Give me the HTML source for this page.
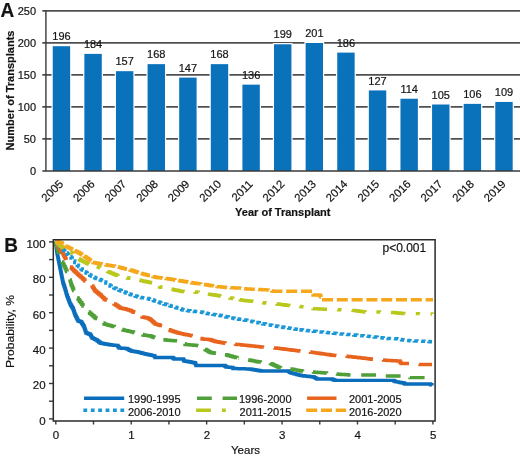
<!DOCTYPE html>
<html><head><meta charset="utf-8"><style>
html,body{margin:0;padding:0;background:#fff;width:520px;height:460px;overflow:hidden}
svg{display:block;font-family:"Liberation Sans", sans-serif;will-change:transform} text{stroke:#141414;stroke-width:0.2px}
</style></head><body>
<svg width="520" height="460" viewBox="0 0 520 460">
<line x1="42.3" y1="138.96" x2="520" y2="138.96" stroke="#505050" stroke-width="1.7"/>
<line x1="42.3" y1="106.92" x2="520" y2="106.92" stroke="#505050" stroke-width="1.7"/>
<line x1="42.3" y1="74.88" x2="520" y2="74.88" stroke="#505050" stroke-width="1.7"/>
<line x1="42.3" y1="42.84" x2="520" y2="42.84" stroke="#505050" stroke-width="1.7"/>
<line x1="42.3" y1="10.80" x2="520" y2="10.80" stroke="#505050" stroke-width="1.7"/>
<rect x="51.55" y="45.00" width="19.80" height="126.00" fill="#fff"/>
<rect x="52.75" y="46.20" width="17.40" height="124.80" fill="#0a71bb"/>
<text x="61.45" y="40.30" text-anchor="middle" font-size="11" fill="#141414">196</text>
<text x="63.85" y="184.70" text-anchor="end" font-size="11.3" fill="#141414" transform="rotate(-45 63.85 184.70)">2005</text>
<rect x="83.16" y="52.69" width="19.80" height="118.31" fill="#fff"/>
<rect x="84.36" y="53.89" width="17.40" height="117.11" fill="#0a71bb"/>
<text x="93.06" y="47.99" text-anchor="middle" font-size="11" fill="#141414">184</text>
<text x="95.46" y="184.70" text-anchor="end" font-size="11.3" fill="#141414" transform="rotate(-45 95.46 184.70)">2006</text>
<rect x="114.77" y="69.99" width="19.80" height="101.01" fill="#fff"/>
<rect x="115.97" y="71.19" width="17.40" height="99.81" fill="#0a71bb"/>
<text x="124.67" y="65.29" text-anchor="middle" font-size="11" fill="#141414">157</text>
<text x="127.07" y="184.70" text-anchor="end" font-size="11.3" fill="#141414" transform="rotate(-45 127.07 184.70)">2007</text>
<rect x="146.38" y="62.95" width="19.80" height="108.05" fill="#fff"/>
<rect x="147.58" y="64.15" width="17.40" height="106.85" fill="#0a71bb"/>
<text x="156.28" y="58.25" text-anchor="middle" font-size="11" fill="#141414">168</text>
<text x="158.68" y="184.70" text-anchor="end" font-size="11.3" fill="#141414" transform="rotate(-45 158.68 184.70)">2008</text>
<rect x="177.99" y="76.40" width="19.80" height="94.60" fill="#fff"/>
<rect x="179.19" y="77.60" width="17.40" height="93.40" fill="#0a71bb"/>
<text x="187.89" y="71.70" text-anchor="middle" font-size="11" fill="#141414">147</text>
<text x="190.29" y="184.70" text-anchor="end" font-size="11.3" fill="#141414" transform="rotate(-45 190.29 184.70)">2009</text>
<rect x="209.60" y="62.95" width="19.80" height="108.05" fill="#fff"/>
<rect x="210.80" y="64.15" width="17.40" height="106.85" fill="#0a71bb"/>
<text x="219.50" y="58.25" text-anchor="middle" font-size="11" fill="#141414">168</text>
<text x="221.90" y="184.70" text-anchor="end" font-size="11.3" fill="#141414" transform="rotate(-45 221.90 184.70)">2010</text>
<rect x="241.21" y="83.45" width="19.80" height="87.55" fill="#fff"/>
<rect x="242.41" y="84.65" width="17.40" height="86.35" fill="#0a71bb"/>
<text x="251.11" y="78.75" text-anchor="middle" font-size="11" fill="#141414">136</text>
<text x="253.51" y="184.70" text-anchor="end" font-size="11.3" fill="#141414" transform="rotate(-45 253.51 184.70)">2011</text>
<rect x="272.82" y="43.08" width="19.80" height="127.92" fill="#fff"/>
<rect x="274.02" y="44.28" width="17.40" height="126.72" fill="#0a71bb"/>
<text x="282.72" y="38.38" text-anchor="middle" font-size="11" fill="#141414">199</text>
<text x="285.12" y="184.70" text-anchor="end" font-size="11.3" fill="#141414" transform="rotate(-45 285.12 184.70)">2012</text>
<rect x="304.43" y="41.80" width="19.80" height="129.20" fill="#fff"/>
<rect x="305.63" y="43.00" width="17.40" height="128.00" fill="#0a71bb"/>
<text x="314.33" y="37.10" text-anchor="middle" font-size="11" fill="#141414">201</text>
<text x="316.73" y="184.70" text-anchor="end" font-size="11.3" fill="#141414" transform="rotate(-45 316.73 184.70)">2013</text>
<rect x="336.04" y="51.41" width="19.80" height="119.59" fill="#fff"/>
<rect x="337.24" y="52.61" width="17.40" height="118.39" fill="#0a71bb"/>
<text x="345.94" y="46.71" text-anchor="middle" font-size="11" fill="#141414">186</text>
<text x="348.34" y="184.70" text-anchor="end" font-size="11.3" fill="#141414" transform="rotate(-45 348.34 184.70)">2014</text>
<rect x="367.65" y="89.22" width="19.80" height="81.78" fill="#fff"/>
<rect x="368.85" y="90.42" width="17.40" height="80.58" fill="#0a71bb"/>
<text x="377.55" y="84.52" text-anchor="middle" font-size="11" fill="#141414">127</text>
<text x="379.95" y="184.70" text-anchor="end" font-size="11.3" fill="#141414" transform="rotate(-45 379.95 184.70)">2015</text>
<rect x="399.26" y="97.55" width="19.80" height="73.45" fill="#fff"/>
<rect x="400.46" y="98.75" width="17.40" height="72.25" fill="#0a71bb"/>
<text x="409.16" y="92.85" text-anchor="middle" font-size="11" fill="#141414">114</text>
<text x="411.56" y="184.70" text-anchor="end" font-size="11.3" fill="#141414" transform="rotate(-45 411.56 184.70)">2016</text>
<rect x="430.87" y="103.32" width="19.80" height="67.68" fill="#fff"/>
<rect x="432.07" y="104.52" width="17.40" height="66.48" fill="#0a71bb"/>
<text x="440.77" y="98.62" text-anchor="middle" font-size="11" fill="#141414">105</text>
<text x="443.17" y="184.70" text-anchor="end" font-size="11.3" fill="#141414" transform="rotate(-45 443.17 184.70)">2017</text>
<rect x="462.48" y="102.68" width="19.80" height="68.32" fill="#fff"/>
<rect x="463.68" y="103.88" width="17.40" height="67.12" fill="#0a71bb"/>
<text x="472.38" y="97.98" text-anchor="middle" font-size="11" fill="#141414">106</text>
<text x="474.78" y="184.70" text-anchor="end" font-size="11.3" fill="#141414" transform="rotate(-45 474.78 184.70)">2018</text>
<rect x="494.09" y="100.75" width="19.80" height="70.25" fill="#fff"/>
<rect x="495.29" y="101.95" width="17.40" height="69.05" fill="#0a71bb"/>
<text x="503.99" y="96.05" text-anchor="middle" font-size="11" fill="#141414">109</text>
<text x="506.39" y="184.70" text-anchor="end" font-size="11.3" fill="#141414" transform="rotate(-45 506.39 184.70)">2019</text>
<line x1="45.9" y1="10.8" x2="45.9" y2="171.0" stroke="#3a3a3a" stroke-width="1.4"/>
<line x1="42.3" y1="171.0" x2="520" y2="171.0" stroke="#3a3a3a" stroke-width="1.4"/>
<text x="36" y="175.00" text-anchor="end" font-size="11" fill="#141414">0</text>
<text x="36" y="142.96" text-anchor="end" font-size="11" fill="#141414">50</text>
<text x="36" y="110.92" text-anchor="end" font-size="11" fill="#141414">100</text>
<text x="36" y="78.88" text-anchor="end" font-size="11" fill="#141414">150</text>
<text x="36" y="46.84" text-anchor="end" font-size="11" fill="#141414">200</text>
<text x="36" y="14.80" text-anchor="end" font-size="11" fill="#141414">250</text>
<text x="0" y="0" font-size="20" font-weight="bold" fill="#141414" transform="translate(0.4 16.7) scale(0.95 1)">A</text>
<text transform="translate(14.2 90.5) rotate(-90)" text-anchor="middle" font-size="11" font-weight="bold" fill="#141414">Number of Transplants</text>
<text x="282.8" y="216" text-anchor="middle" font-size="11" font-weight="bold" fill="#141414">Year of Transplant</text>
<line x1="49" y1="418.90" x2="53.3" y2="418.90" stroke="#3a3a3a" stroke-width="1.4"/>
<line x1="49" y1="401.20" x2="53.3" y2="401.20" stroke="#3a3a3a" stroke-width="1.4"/>
<line x1="49" y1="383.50" x2="53.3" y2="383.50" stroke="#3a3a3a" stroke-width="1.4"/>
<line x1="49" y1="365.80" x2="53.3" y2="365.80" stroke="#3a3a3a" stroke-width="1.4"/>
<line x1="49" y1="348.10" x2="53.3" y2="348.10" stroke="#3a3a3a" stroke-width="1.4"/>
<line x1="49" y1="330.40" x2="53.3" y2="330.40" stroke="#3a3a3a" stroke-width="1.4"/>
<line x1="49" y1="312.70" x2="53.3" y2="312.70" stroke="#3a3a3a" stroke-width="1.4"/>
<line x1="49" y1="295.00" x2="53.3" y2="295.00" stroke="#3a3a3a" stroke-width="1.4"/>
<line x1="49" y1="277.30" x2="53.3" y2="277.30" stroke="#3a3a3a" stroke-width="1.4"/>
<line x1="49" y1="259.60" x2="53.3" y2="259.60" stroke="#3a3a3a" stroke-width="1.4"/>
<line x1="49" y1="241.90" x2="53.3" y2="241.90" stroke="#3a3a3a" stroke-width="1.4"/>
<text x="45.6" y="424.80" text-anchor="end" font-size="11.5" fill="#141414">0</text>
<text x="45.6" y="389.40" text-anchor="end" font-size="11.5" fill="#141414">20</text>
<text x="45.6" y="354.00" text-anchor="end" font-size="11.5" fill="#141414">40</text>
<text x="45.6" y="318.60" text-anchor="end" font-size="11.5" fill="#141414">60</text>
<text x="45.6" y="283.20" text-anchor="end" font-size="11.5" fill="#141414">80</text>
<text x="45.6" y="247.80" text-anchor="end" font-size="11.5" fill="#141414">100</text>
<line x1="55.80" y1="421.0" x2="55.80" y2="424.5" stroke="#3a3a3a" stroke-width="1.4"/>
<line x1="93.51" y1="421.0" x2="93.51" y2="424.5" stroke="#3a3a3a" stroke-width="1.4"/>
<line x1="131.22" y1="421.0" x2="131.22" y2="424.5" stroke="#3a3a3a" stroke-width="1.4"/>
<line x1="168.93" y1="421.0" x2="168.93" y2="424.5" stroke="#3a3a3a" stroke-width="1.4"/>
<line x1="206.64" y1="421.0" x2="206.64" y2="424.5" stroke="#3a3a3a" stroke-width="1.4"/>
<line x1="244.35" y1="421.0" x2="244.35" y2="424.5" stroke="#3a3a3a" stroke-width="1.4"/>
<line x1="282.06" y1="421.0" x2="282.06" y2="424.5" stroke="#3a3a3a" stroke-width="1.4"/>
<line x1="319.77" y1="421.0" x2="319.77" y2="424.5" stroke="#3a3a3a" stroke-width="1.4"/>
<line x1="357.48" y1="421.0" x2="357.48" y2="424.5" stroke="#3a3a3a" stroke-width="1.4"/>
<line x1="395.19" y1="421.0" x2="395.19" y2="424.5" stroke="#3a3a3a" stroke-width="1.4"/>
<line x1="432.90" y1="421.0" x2="432.90" y2="424.5" stroke="#3a3a3a" stroke-width="1.4"/>
<text x="56.00" y="438.6" text-anchor="middle" font-size="11.5" fill="#141414">0</text>
<text x="131.42" y="438.6" text-anchor="middle" font-size="11.5" fill="#141414">1</text>
<text x="206.84" y="438.6" text-anchor="middle" font-size="11.5" fill="#141414">2</text>
<text x="282.26" y="438.6" text-anchor="middle" font-size="11.5" fill="#141414">3</text>
<text x="357.68" y="438.6" text-anchor="middle" font-size="11.5" fill="#141414">4</text>
<text x="433.10" y="438.6" text-anchor="middle" font-size="11.5" fill="#141414">5</text>
<text x="0" y="0" font-size="20" font-weight="bold" fill="#141414" transform="translate(4.2 251.5) scale(0.95 1)">B</text>
<text transform="translate(14.4 331.5) rotate(-90)" text-anchor="middle" font-size="11" fill="#141414" textLength="73" lengthAdjust="spacingAndGlyphs">Probability, %</text>
<text x="245.5" y="454" text-anchor="middle" font-size="11.5" fill="#141414">Years</text>
<text x="426.2" y="251.7" text-anchor="end" font-size="12" fill="#141414">p&lt;0.001</text>
<path d="M55.50 241.50L55.69 241.50L55.69 242.94L55.88 242.94L55.88 244.38L56.06 244.38L56.06 245.81L56.25 245.81L56.25 247.25L56.44 247.25L56.44 248.69L56.62 248.69L56.62 250.12L56.81 250.12L56.81 251.56L57.00 251.56L57.00 253.00L57.29 253.00L57.29 254.43L57.57 254.43L57.57 255.86L57.86 255.86L57.86 257.29L58.14 257.29L58.14 258.71L58.43 258.71L58.43 260.14L58.71 260.14L58.71 261.57L59.00 261.57L59.00 263.00L59.29 263.00L59.29 264.43L59.57 264.43L59.57 265.86L59.86 265.86L59.86 267.29L60.14 267.29L60.14 268.71L60.43 268.71L60.43 270.14L60.71 270.14L60.71 271.57L61.00 271.57L61.00 273.00L61.29 273.00L61.29 274.43L61.57 274.43L61.57 275.86L61.86 275.86L61.86 277.29L62.14 277.29L62.14 278.71L62.43 278.71L62.43 280.14L62.71 280.14L62.71 281.57L63.00 281.57L63.00 283.00L63.50 283.00L63.50 284.50L64.00 284.50L64.00 286.00L64.50 286.00L64.50 287.50L65.00 287.50L65.00 289.00L65.40 289.00L65.40 290.40L65.80 290.40L65.80 291.80L66.20 291.80L66.20 293.20L66.60 293.20L66.60 294.60L67.00 294.60L67.00 296.00L67.60 296.00L67.60 297.60L68.20 297.60L68.20 299.20L68.80 299.20L68.80 300.80L69.40 300.80L69.40 302.40L70.00 302.40L70.00 304.00L70.75 304.00L70.75 305.25L71.50 305.25L71.50 306.50L72.25 306.50L72.25 307.75L73.00 307.75L73.00 309.00L73.50 309.00L73.50 310.50L74.00 310.50L74.00 312.00L74.50 312.00L74.50 313.50L75.00 313.50L75.00 315.00L75.75 315.00L75.75 316.50L76.50 316.50L76.50 318.00L77.25 318.00L77.25 319.50L78.00 319.50L78.00 321.00L79.50 321.00L79.50 321.50L81.00 321.50L81.00 322.00L81.75 322.00L81.75 323.25L82.50 323.25L82.50 324.50L83.25 324.50L83.25 325.75L84.00 325.75L84.00 327.00L84.50 327.00L84.50 328.50L85.00 328.50L85.00 330.00L85.50 330.00L85.50 331.50L86.00 331.50L86.00 333.00L87.33 333.00L87.33 333.50L88.67 333.50L88.67 334.00L90.00 334.00L90.00 334.50L90.67 334.50L90.67 335.67L91.33 335.67L91.33 336.83L92.00 336.83L92.00 338.00L93.33 338.00L93.33 338.67L94.67 338.67L94.67 339.33L96.00 339.33L96.00 340.00L97.33 340.00L97.33 341.00L98.67 341.00L98.67 342.00L100.00 342.00L100.00 343.00L101.25 343.00L101.25 343.25L102.50 343.25L102.50 343.50L103.75 343.50L103.75 343.75L105.00 343.75L105.00 344.00L106.50 344.00L106.50 344.25L108.00 344.25L108.00 344.50L109.50 344.50L109.50 344.75L111.00 344.75L111.00 345.00L112.50 345.00L112.50 345.12L114.00 345.12L114.00 345.25L115.50 345.25L115.50 345.38L117.00 345.38L117.00 345.50L118.00 345.50L118.00 346.75L119.00 346.75L119.00 348.00L120.40 348.00L120.40 348.10L121.80 348.10L121.80 348.20L123.20 348.20L123.20 348.30L124.60 348.30L124.60 348.40L126.00 348.40L126.00 348.50L127.25 348.50L127.25 349.12L128.50 349.12L128.50 349.75L129.75 349.75L129.75 350.38L131.00 350.38L131.00 351.00L132.50 351.00L132.50 351.25L134.00 351.25L134.00 351.50L135.50 351.50L135.50 351.75L137.00 351.75L137.00 352.00L138.60 352.00L138.60 352.40L140.20 352.40L140.20 352.80L141.80 352.80L141.80 353.20L143.40 353.20L143.40 353.60L145.00 353.60L145.00 354.00L146.25 354.00L146.25 354.25L147.50 354.25L147.50 354.50L148.75 354.50L148.75 354.75L150.00 354.75L150.00 355.00L151.33 355.00L151.33 355.33L152.67 355.33L152.67 355.67L154.00 355.67L154.00 356.00L155.00 356.00L155.00 357.50L156.55 357.50L156.55 357.50L158.09 357.50L158.09 357.50L159.64 357.50L159.64 357.50L161.18 357.50L161.18 357.50L162.73 357.50L162.73 357.50L164.27 357.50L164.27 357.50L165.82 357.50L165.82 357.50L167.36 357.50L167.36 357.50L168.91 357.50L168.91 357.50L170.45 357.50L170.45 357.50L172.00 357.50L172.00 357.50L173.00 357.50L173.00 358.25L174.00 358.25L174.00 359.00L175.50 359.00L175.50 359.00L177.00 359.00L177.00 359.00L178.50 359.00L178.50 359.00L180.00 359.00L180.00 359.00L181.50 359.00L181.50 359.00L183.00 359.00L183.00 359.00L183.50 359.00L183.50 360.00L184.00 360.00L184.00 361.00L185.50 361.00L185.50 361.25L187.00 361.25L187.00 361.50L188.50 361.50L188.50 361.75L190.00 361.75L190.00 362.00L191.25 362.00L191.25 362.25L192.50 362.25L192.50 362.50L193.75 362.50L193.75 362.75L195.00 362.75L195.00 363.00L195.50 363.00L195.50 364.25L196.00 364.25L196.00 365.50L197.56 365.50L197.56 365.50L199.11 365.50L199.11 365.50L200.67 365.50L200.67 365.50L202.22 365.50L202.22 365.50L203.78 365.50L203.78 365.50L205.33 365.50L205.33 365.50L206.89 365.50L206.89 365.50L208.44 365.50L208.44 365.50L210.00 365.50L210.00 365.50L211.56 365.50L211.56 365.50L213.11 365.50L213.11 365.50L214.67 365.50L214.67 365.50L216.22 365.50L216.22 365.50L217.78 365.50L217.78 365.50L219.33 365.50L219.33 365.50L220.89 365.50L220.89 365.50L222.44 365.50L222.44 365.50L224.00 365.50L224.00 365.50L225.00 365.50L225.00 366.25L226.00 366.25L226.00 367.00L227.50 367.00L227.50 367.12L229.00 367.12L229.00 367.25L230.50 367.25L230.50 367.38L232.00 367.38L232.00 367.50L233.00 367.50L233.00 368.50L234.60 368.50L234.60 368.55L236.20 368.55L236.20 368.60L237.80 368.60L237.80 368.65L239.40 368.65L239.40 368.70L241.00 368.70L241.00 368.75L242.60 368.75L242.60 368.80L244.20 368.80L244.20 368.85L245.80 368.85L245.80 368.90L247.40 368.90L247.40 368.95L249.00 368.95L249.00 369.00L250.50 369.00L250.50 369.25L252.00 369.25L252.00 369.50L253.50 369.50L253.50 369.75L255.00 369.75L255.00 370.00L256.50 370.00L256.50 370.25L258.00 370.25L258.00 370.50L259.50 370.50L259.50 370.75L261.00 370.75L261.00 371.00L262.53 371.00L262.53 371.00L264.06 371.00L264.06 371.00L265.59 371.00L265.59 371.00L267.12 371.00L267.12 371.00L268.65 371.00L268.65 371.00L270.18 371.00L270.18 371.00L271.71 371.00L271.71 371.00L273.24 371.00L273.24 371.00L274.76 371.00L274.76 371.00L276.29 371.00L276.29 371.00L277.82 371.00L277.82 371.00L279.35 371.00L279.35 371.00L280.88 371.00L280.88 371.00L282.41 371.00L282.41 371.00L283.94 371.00L283.94 371.00L285.47 371.00L285.47 371.00L287.00 371.00L287.00 371.00L288.33 371.00L288.33 371.67L289.67 371.67L289.67 372.33L291.00 372.33L291.00 373.00L292.43 373.00L292.43 373.37L293.86 373.37L293.86 373.74L295.29 373.74L295.29 374.11L296.71 374.11L296.71 374.49L298.14 374.49L298.14 374.86L299.57 374.86L299.57 375.23L301.00 375.23L301.00 375.60L302.50 375.60L302.50 375.78L304.00 375.78L304.00 375.95L305.50 375.95L305.50 376.12L307.00 376.12L307.00 376.30L308.50 376.30L308.50 376.48L310.00 376.48L310.00 376.65L311.50 376.65L311.50 376.82L313.00 376.82L313.00 377.00L314.33 377.00L314.33 377.67L315.67 377.67L315.67 378.33L317.00 378.33L317.00 379.00L318.56 379.00L318.56 379.00L320.11 379.00L320.11 379.00L321.67 379.00L321.67 379.00L323.22 379.00L323.22 379.00L324.78 379.00L324.78 379.00L326.33 379.00L326.33 379.00L327.89 379.00L327.89 379.00L329.44 379.00L329.44 379.00L331.00 379.00L331.00 379.00L332.33 379.00L332.33 379.47L333.67 379.47L333.67 379.93L335.00 379.93L335.00 380.40L336.57 380.40L336.57 380.40L338.14 380.40L338.14 380.40L339.70 380.40L339.70 380.40L341.27 380.40L341.27 380.40L342.84 380.40L342.84 380.40L344.41 380.40L344.41 380.40L345.97 380.40L345.97 380.40L347.54 380.40L347.54 380.40L349.11 380.40L349.11 380.40L350.68 380.40L350.68 380.40L352.24 380.40L352.24 380.40L353.81 380.40L353.81 380.40L355.38 380.40L355.38 380.40L356.95 380.40L356.95 380.40L358.51 380.40L358.51 380.40L360.08 380.40L360.08 380.40L361.65 380.40L361.65 380.40L363.22 380.40L363.22 380.40L364.78 380.40L364.78 380.40L366.35 380.40L366.35 380.40L367.92 380.40L367.92 380.40L369.49 380.40L369.49 380.40L371.05 380.40L371.05 380.40L372.62 380.40L372.62 380.40L374.19 380.40L374.19 380.40L375.76 380.40L375.76 380.40L377.32 380.40L377.32 380.40L378.89 380.40L378.89 380.40L380.46 380.40L380.46 380.40L382.03 380.40L382.03 380.40L383.59 380.40L383.59 380.40L385.16 380.40L385.16 380.40L386.73 380.40L386.73 380.40L388.30 380.40L388.30 380.40L389.86 380.40L389.86 380.40L391.43 380.40L391.43 380.40L393.00 380.40L393.00 380.40L394.00 380.40L394.00 381.00L395.00 381.00L395.00 381.60L396.60 381.60L396.60 381.88L398.20 381.88L398.20 382.16L399.80 382.16L399.80 382.44L401.40 382.44L401.40 382.72L403.00 382.72L403.00 383.00L404.00 383.00L404.00 383.50L405.00 383.50L405.00 384.00L406.60 384.00L406.60 384.00L408.20 384.00L408.20 384.00L409.80 384.00L409.80 384.00L411.40 384.00L411.40 384.00L413.00 384.00L413.00 384.00L414.60 384.00L414.60 384.00L416.20 384.00L416.20 384.00L417.80 384.00L417.80 384.00L419.40 384.00L419.40 384.00L421.00 384.00L421.00 384.00L422.60 384.00L422.60 384.00L424.20 384.00L424.20 384.00L425.80 384.00L425.80 384.00L427.40 384.00L427.40 384.00L429.00 384.00L429.00 384.00L430.50 384.00L430.50 384.80L432.00 384.80L432.00 385.60" fill="none" stroke="#0a6ebd" stroke-width="3.4" stroke-linejoin="miter"/>
<path d="M55.50 242.00L55.92 242.00L55.92 243.50L56.33 243.50L56.33 245.00L56.75 245.00L56.75 246.50L57.17 246.50L57.17 248.00L57.58 248.00L57.58 249.50L58.00 249.50L58.00 251.00L58.57 251.00L58.57 252.57L59.14 252.57L59.14 254.14L59.71 254.14L59.71 255.71L60.29 255.71L60.29 257.29L60.86 257.29L60.86 258.86L61.43 258.86L61.43 260.43L62.00 260.43L62.00 262.00L62.80 262.00L62.80 263.60L63.60 263.60L63.60 265.20L64.40 265.20L64.40 266.80L65.20 266.80L65.20 268.40L66.00 268.40L66.00 270.00L66.57 270.00L66.57 271.43L67.14 271.43L67.14 272.86L67.71 272.86L67.71 274.29L68.29 274.29L68.29 275.71L68.86 275.71L68.86 277.14L69.43 277.14L69.43 278.57L70.00 278.57L70.00 280.00L70.33 280.00L70.33 281.33L70.67 281.33L70.67 282.67L71.00 282.67L71.00 284.00L71.50 284.00L71.50 285.25L72.00 285.25L72.00 286.50L72.50 286.50L72.50 287.75L73.00 287.75L73.00 289.00L73.67 289.00L73.67 290.50L74.33 290.50L74.33 292.00L75.00 292.00L75.00 293.50L75.67 293.50L75.67 295.00L76.33 295.00L76.33 296.50L77.00 296.50L77.00 298.00L78.20 298.00L78.20 299.60L79.40 299.60L79.40 301.20L80.60 301.20L80.60 302.80L81.80 302.80L81.80 304.40L83.00 304.40L83.00 306.00L84.25 306.00L84.25 307.50L85.50 307.50L85.50 309.00L86.75 309.00L86.75 310.50L88.00 310.50L88.00 312.00L89.50 312.00L89.50 313.25L91.00 313.25L91.00 314.50L92.50 314.50L92.50 315.75L94.00 315.75L94.00 317.00L95.00 317.00L95.00 317.75L96.00 317.75L96.00 318.50L97.60 318.50L97.60 319.60L99.20 319.60L99.20 320.70L100.80 320.70L100.80 321.80L102.40 321.80L102.40 322.90L104.00 322.90L104.00 324.00L105.50 324.00L105.50 324.42L107.00 324.42L107.00 324.83L108.50 324.83L108.50 325.25L110.00 325.25L110.00 325.67L111.50 325.67L111.50 326.08L113.00 326.08L113.00 326.50L114.43 326.50L114.43 327.00L115.86 327.00L115.86 327.50L117.29 327.50L117.29 328.00L118.71 328.00L118.71 328.50L120.14 328.50L120.14 329.00L121.57 329.00L121.57 329.50L123.00 329.50L123.00 330.00L124.50 330.00L124.50 330.33L126.00 330.33L126.00 330.67L127.50 330.67L127.50 331.00L129.00 331.00L129.00 331.33L130.50 331.33L130.50 331.67L132.00 331.67L132.00 332.00L133.57 332.00L133.57 332.43L135.14 332.43L135.14 332.86L136.71 332.86L136.71 333.29L138.29 333.29L138.29 333.71L139.86 333.71L139.86 334.14L141.43 334.14L141.43 334.57L143.00 334.57L143.00 335.00L144.40 335.00L144.40 335.20L145.80 335.20L145.80 335.40L147.20 335.40L147.20 335.60L148.60 335.60L148.60 335.80L150.00 335.80L150.00 336.00L151.33 336.00L151.33 336.50L152.67 336.50L152.67 337.00L154.00 337.00L154.00 337.50L155.57 337.50L155.57 337.86L157.14 337.86L157.14 338.21L158.71 338.21L158.71 338.57L160.29 338.57L160.29 338.93L161.86 338.93L161.86 339.29L163.43 339.29L163.43 339.64L165.00 339.64L165.00 340.00L166.50 340.00L166.50 340.12L168.00 340.12L168.00 340.25L169.50 340.25L169.50 340.38L171.00 340.38L171.00 340.50L172.50 340.50L172.50 340.62L174.00 340.62L174.00 340.75L175.50 340.75L175.50 340.88L177.00 340.88L177.00 341.00L178.60 341.00L178.60 341.70L180.20 341.70L180.20 342.40L181.80 342.40L181.80 343.10L183.40 343.10L183.40 343.80L185.00 343.80L185.00 344.50L186.50 344.50L186.50 344.62L188.00 344.62L188.00 344.75L189.50 344.75L189.50 344.88L191.00 344.88L191.00 345.00L192.50 345.00L192.50 345.12L194.00 345.12L194.00 345.25L195.50 345.25L195.50 345.38L197.00 345.38L197.00 345.50L198.60 345.50L198.60 346.30L200.20 346.30L200.20 347.10L201.80 347.10L201.80 347.90L203.40 347.90L203.40 348.70L205.00 348.70L205.00 349.50L206.25 349.50L206.25 350.25L207.50 350.25L207.50 351.00L208.75 351.00L208.75 351.75L210.00 351.75L210.00 352.50L211.50 352.50L211.50 352.75L213.00 352.75L213.00 353.00L214.50 353.00L214.50 353.25L216.00 353.25L216.00 353.50L217.50 353.50L217.50 353.71L219.00 353.71L219.00 353.93L220.50 353.93L220.50 354.14L222.00 354.14L222.00 354.36L223.50 354.36L223.50 354.57L225.00 354.57L225.00 354.79L226.50 354.79L226.50 355.00L228.00 355.00L228.00 355.43L229.50 355.43L229.50 355.86L231.00 355.86L231.00 356.29L232.50 356.29L232.50 356.71L234.00 356.71L234.00 357.14L235.50 357.14L235.50 357.57L237.00 357.57L237.00 358.00L238.57 358.00L238.57 358.29" fill="none" stroke="#50a03a" stroke-width="3.4" stroke-dasharray="14.8 10.8" stroke-dashoffset="24.82"/>
<path d="M238.57 358.29L240.14 358.29L240.14 358.57L241.71 358.57L241.71 358.86L243.29 358.86L243.29 359.14L244.86 359.14L244.86 359.43L246.43 359.43L246.43 359.71L248.00 359.71L248.00 360.00L249.57 360.00L249.57 360.29L251.14 360.29L251.14 360.57L252.71 360.57L252.71 360.86L254.29 360.86L254.29 361.14L255.86 361.14L255.86 361.43L257.43 361.43L257.43 361.71L259.00 361.71L259.00 362.00L260.43 362.00L260.43 362.14L261.86 362.14L261.86 362.29L263.29 362.29L263.29 362.43L264.71 362.43L264.71 362.57L266.14 362.57L266.14 362.71L267.57 362.71L267.57 362.86L269.00 362.86L269.00 363.00L270.43 363.00L270.43 363.66L271.86 363.66L271.86 364.31L273.29 364.31L273.29 364.97L274.71 364.97L274.71 365.63L276.14 365.63L276.14 366.29L277.57 366.29L277.57 366.94L279.00 366.94L279.00 367.60L280.57 367.60L280.57 367.80L282.14 367.80L282.14 368.00L283.71 368.00L283.71 368.20L285.29 368.20L285.29 368.40L286.86 368.40L286.86 368.60L288.43 368.60L288.43 368.80L290.00 368.80L290.00 369.00L291.57 369.00L291.57 369.29L293.14 369.29L293.14 369.57L294.71 369.57L294.71 369.86L296.29 369.86L296.29 370.14L297.86 370.14L297.86 370.43L299.43 370.43L299.43 370.71L301.00 370.71L301.00 371.00L302.57 371.00L302.57 371.14L304.14 371.14L304.14 371.29L305.71 371.29L305.71 371.43L307.29 371.43L307.29 371.57L308.86 371.57L308.86 371.71L310.43 371.71L310.43 371.86L312.00 371.86L312.00 372.00L313.44 372.00L313.44 372.11L314.89 372.11L314.89 372.22L316.33 372.22L316.33 372.33L317.78 372.33L317.78 372.44L319.22 372.44L319.22 372.56L320.67 372.56L320.67 372.67L322.11 372.67L322.11 372.78L323.56 372.78L323.56 372.89L325.00 372.89L325.00 373.00L326.57 373.00L326.57 373.14L328.14 373.14L328.14 373.29L329.71 373.29L329.71 373.43L331.29 373.43L331.29 373.57L332.86 373.57L332.86 373.71L334.43 373.71L334.43 373.86L336.00 373.86L336.00 374.00L337.44 374.00L337.44 374.11L338.89 374.11L338.89 374.22L340.33 374.22L340.33 374.33L341.78 374.33L341.78 374.44L343.22 374.44L343.22 374.56L344.67 374.56L344.67 374.67L346.11 374.67L346.11 374.78L347.56 374.78L347.56 374.89L349.00 374.89L349.00 375.00L350.60 375.00L350.60 375.00L352.20 375.00L352.20 375.00L353.80 375.00L353.80 375.00L355.40 375.00L355.40 375.00L357.00 375.00L357.00 375.00L358.60 375.00L358.60 375.00L360.20 375.00L360.20 375.00L361.80 375.00L361.80 375.00L363.40 375.00L363.40 375.00L365.00 375.00L365.00 375.00L366.50 375.00L366.50 375.00L368.00 375.00L368.00 375.00L369.50 375.00L369.50 375.00L371.00 375.00L371.00 375.00L372.50 375.00L372.50 375.00L374.00 375.00L374.00 375.00L375.50 375.00L375.50 375.00L377.00 375.00L377.00 375.00L378.40 375.00L378.40 375.20L379.80 375.20L379.80 375.40L381.20 375.40L381.20 375.60L382.60 375.60L382.60 375.80L384.00 375.80L384.00 376.00L385.55 376.00L385.55 376.00L387.09 376.00L387.09 376.00L388.64 376.00L388.64 376.00L390.18 376.00L390.18 376.00L391.73 376.00L391.73 376.00L393.27 376.00L393.27 376.00L394.82 376.00L394.82 376.00L396.36 376.00L396.36 376.00L397.91 376.00L397.91 376.00L399.45 376.00L399.45 376.00L401.00 376.00L401.00 376.00L402.50 376.00L402.50 376.27L404.00 376.27L404.00 376.53L405.50 376.53L405.50 376.80L407.00 376.80L407.00 377.07L408.50 377.07L408.50 377.33L410.00 377.33L410.00 377.60L411.50 377.60L411.50 377.60L413.00 377.60L413.00 377.60L414.50 377.60L414.50 377.60L416.00 377.60L416.00 377.60L417.50 377.60L417.50 377.60L419.00 377.60L419.00 377.60L420.50 377.60L420.50 377.60L422.00 377.60L422.00 377.60L423.50 377.60L423.50 377.60L425.00 377.60L425.00 377.60L426.60 377.60L426.60 377.60L428.20 377.60L428.20 377.60L429.80 377.60L429.80 377.60L431.40 377.60L431.40 377.60L433.00 377.60L433.00 377.60" fill="none" stroke="#50a03a" stroke-width="3.4" stroke-dasharray="14.8 10.8" stroke-dashoffset="14.26"/>
<path d="M55.50 242.00L56.38 242.00L56.38 243.50L57.25 243.50L57.25 245.00L58.12 245.00L58.12 246.50L59.00 246.50L59.00 248.00L60.00 248.00L60.00 249.50L61.00 249.50L61.00 251.00L62.00 251.00L62.00 252.50L63.00 252.50L63.00 254.00L63.75 254.00L63.75 255.50L64.50 255.50L64.50 257.00L65.25 257.00L65.25 258.50L66.00 258.50L66.00 260.00L66.80 260.00L66.80 261.40L67.60 261.40L67.60 262.80L68.40 262.80L68.40 264.20L69.20 264.20L69.20 265.60L70.00 265.60L70.00 267.00L71.25 267.00L71.25 268.25L72.50 268.25L72.50 269.50L73.75 269.50L73.75 270.75L75.00 270.75L75.00 272.00L76.25 272.00L76.25 273.12L77.50 273.12L77.50 274.25L78.75 274.25L78.75 275.38L80.00 275.38L80.00 276.50L81.25 276.50L81.25 277.62L82.50 277.62L82.50 278.75L83.75 278.75L83.75 279.88L85.00 279.88L85.00 281.00L86.40 281.00L86.40 282.00L87.80 282.00L87.80 283.00L89.20 283.00L89.20 284.00L90.60 284.00L90.60 285.00L92.00 285.00L92.00 286.00L92.75 286.00L92.75 287.25L93.50 287.25L93.50 288.50L94.25 288.50L94.25 289.75L95.00 289.75L95.00 291.00L96.25 291.00L96.25 292.00L97.50 292.00L97.50 293.00L98.75 293.00L98.75 294.00L100.00 294.00L100.00 295.00L101.33 295.00L101.33 296.33L102.67 296.33L102.67 297.67L104.00 297.67L104.00 299.00L105.00 299.00L105.00 299.50L106.00 299.50L106.00 300.00L107.60 300.00L107.60 300.80L109.20 300.80L109.20 301.60L110.80 301.60L110.80 302.40L112.40 302.40L112.40 303.20L114.00 303.20L114.00 304.00L115.50 304.00L115.50 305.00L117.00 305.00L117.00 306.00L118.50 306.00L118.50 307.00L120.00 307.00L120.00 308.00L121.25 308.00L121.25 308.25L122.50 308.25L122.50 308.50L123.75 308.50L123.75 308.75L125.00 308.75L125.00 309.00L126.25 309.00L126.25 309.38L127.50 309.38L127.50 309.75L128.75 309.75L128.75 310.12L130.00 310.12L130.00 310.50L131.25 310.50L131.25 311.12L132.50 311.12L132.50 311.75L133.75 311.75L133.75 312.38L135.00 312.38L135.00 313.00L136.40 313.00L136.40 313.80L137.80 313.80L137.80 314.60L139.20 314.60L139.20 315.40L140.60 315.40L140.60 316.20L142.00 316.20L142.00 317.00L143.25 317.00L143.25 317.25L144.50 317.25L144.50 317.50L145.75 317.50L145.75 317.75L147.00 317.75L147.00 318.00L148.50 318.00L148.50 318.75L150.00 318.75L150.00 319.50L151.25 319.50L151.25 320.62L152.50 320.62L152.50 321.75L153.75 321.75L153.75 322.88L155.00 322.88L155.00 324.00L156.40 324.00L156.40 324.40L157.80 324.40L157.80 324.80L159.20 324.80L159.20 325.20L160.60 325.20L160.60 325.60L162.00 325.60L162.00 326.00L163.60 326.00L163.60 326.90L165.20 326.90L165.20 327.80L166.80 327.80L166.80 328.70L168.40 328.70L168.40 329.60L170.00 329.60L170.00 330.50L171.60 330.50L171.60 331.00L173.20 331.00L173.20 331.50L174.80 331.50L174.80 332.00L176.40 332.00L176.40 332.50L178.00 332.50L178.00 333.00L179.40 333.00L179.40 333.30L180.80 333.30L180.80 333.60L182.20 333.60L182.20 333.90L183.60 333.90L183.60 334.20L185.00 334.20L185.00 334.50L186.60 334.50L186.60 334.80L188.20 334.80L188.20 335.10L189.80 335.10L189.80 335.40L191.40 335.40L191.40 335.70L193.00 335.70L193.00 336.00L194.50 336.00L194.50 336.50L196.00 336.50L196.00 337.00L197.50 337.00L197.50 337.50L199.00 337.50L199.00 338.00L200.50 338.00L200.50 338.50L202.00 338.50L202.00 339.00L203.40 339.00L203.40 339.10L204.80 339.10L204.80 339.20L206.20 339.20L206.20 339.30L207.60 339.30L207.60 339.40L209.00 339.40L209.00 339.50L210.50 339.50L210.50 340.00L212.00 340.00L212.00 340.50L213.50 340.50L213.50 341.00L215.00 341.00L215.00 341.50L216.44 341.50L216.44 341.75L217.88 341.75L217.88 342.00L219.31 342.00L219.31 342.25L220.75 342.25L220.75 342.50L222.19 342.50L222.19 342.75L223.62 342.75L223.62 343.00L225.06 343.00L225.06 343.25L226.50 343.25L226.50 343.50L228.00 343.50L228.00 343.64L229.50 343.64L229.50 343.79L231.00 343.79L231.00 343.93L232.50 343.93L232.50 344.07L234.00 344.07L234.00 344.21L235.50 344.21L235.50 344.36L237.00 344.36L237.00 344.50L238.50 344.50L238.50 344.65L240.00 344.65L240.00 344.80" fill="none" stroke="#e8641e" stroke-width="3.4" stroke-dasharray="29.4 11" stroke-dashoffset="0.90"/>
<path d="M240.00 344.80L241.50 344.80L241.50 344.95L243.00 344.95L243.00 345.10L244.50 345.10L244.50 345.25L246.00 345.25L246.00 345.40L247.50 345.40L247.50 345.55L249.00 345.55L249.00 345.70L250.50 345.70L250.50 345.85L252.00 345.85L252.00 346.00L253.50 346.00L253.50 346.17L255.00 346.17L255.00 346.33L256.50 346.33L256.50 346.50L258.00 346.50L258.00 346.67L259.50 346.67L259.50 346.83L261.00 346.83L261.00 347.00L262.56 347.00L262.56 347.11L264.11 347.11L264.11 347.22L265.67 347.22L265.67 347.33L267.22 347.33L267.22 347.44L268.78 347.44L268.78 347.56L270.33 347.56L270.33 347.67L271.89 347.67L271.89 347.78L273.44 347.78L273.44 347.89L275.00 347.89L275.00 348.00L276.60 348.00L276.60 348.20L278.20 348.20L278.20 348.40L279.80 348.40L279.80 348.60L281.40 348.60L281.40 348.80L283.00 348.80L283.00 349.00L284.60 349.00L284.60 349.20L286.20 349.20L286.20 349.40L287.80 349.40L287.80 349.60L289.40 349.60L289.40 349.80L291.00 349.80L291.00 350.00L292.60 350.00L292.60 350.20L294.20 350.20L294.20 350.40L295.80 350.40L295.80 350.60L297.40 350.60L297.40 350.80L299.00 350.80L299.00 351.00L300.43 351.00L300.43 351.14L301.86 351.14L301.86 351.29L303.29 351.29L303.29 351.43L304.71 351.43L304.71 351.57L306.14 351.57L306.14 351.71L307.57 351.71L307.57 351.86L309.00 351.86L309.00 352.00L310.53 352.00L310.53 352.21L312.06 352.21L312.06 352.42L313.59 352.42L313.59 352.64L315.12 352.64L315.12 352.85L316.65 352.85L316.65 353.06L318.18 353.06L318.18 353.27L319.71 353.27L319.71 353.48L321.24 353.48L321.24 353.69L322.76 353.69L322.76 353.91L324.29 353.91L324.29 354.12L325.82 354.12L325.82 354.33L327.35 354.33L327.35 354.54L328.88 354.54L328.88 354.75L330.41 354.75L330.41 354.96L331.94 354.96L331.94 355.18L333.47 355.18L333.47 355.39L335.00 355.39L335.00 355.60L336.50 355.60L336.50 355.70L338.00 355.70L338.00 355.80L339.50 355.80L339.50 355.90L341.00 355.90L341.00 356.00L342.50 356.00L342.50 356.10L344.00 356.10L344.00 356.20L345.50 356.20L345.50 356.30L347.00 356.30L347.00 356.40L348.50 356.40L348.50 356.57L350.00 356.57L350.00 356.73L351.50 356.73L351.50 356.90L353.00 356.90L353.00 357.07L354.50 357.07L354.50 357.23L356.00 357.23L356.00 357.40L357.50 357.40L357.50 357.57L359.00 357.57L359.00 357.73L360.50 357.73L360.50 357.90L362.00 357.90L362.00 358.07L363.50 358.07L363.50 358.23L365.00 358.23L365.00 358.40L366.60 358.40L366.60 358.60L368.20 358.60L368.20 358.80L369.80 358.80L369.80 359.00L371.40 359.00L371.40 359.20L373.00 359.20L373.00 359.40L374.50 359.40L374.50 359.51L376.00 359.51L376.00 359.62L377.50 359.62L377.50 359.73L379.00 359.73L379.00 359.84L380.50 359.84L380.50 359.95L382.00 359.95L382.00 360.06L383.50 360.06L383.50 360.17L385.00 360.17L385.00 360.28L386.50 360.28L386.50 360.39L388.00 360.39L388.00 360.50L389.57 360.50L389.57 360.57L391.14 360.57L391.14 360.64L392.71 360.64L392.71 360.71L394.29 360.71L394.29 360.79L395.86 360.79L395.86 360.86L397.43 360.86L397.43 360.93L399.00 360.93L399.00 361.00L400.00 361.00L400.00 362.25L401.00 362.25L401.00 363.50L402.60 363.50L402.60 363.50L404.20 363.50L404.20 363.50L405.80 363.50L405.80 363.50L407.40 363.50L407.40 363.50L409.00 363.50L409.00 363.50L410.57 363.50L410.57 363.64L412.14 363.64L412.14 363.79L413.71 363.79L413.71 363.93L415.29 363.93L415.29 364.07L416.86 364.07L416.86 364.21L418.43 364.21L418.43 364.36L420.00 364.36L420.00 364.50L421.50 364.50L421.50 364.50L423.00 364.50L423.00 364.50L424.50 364.50L424.50 364.50L426.00 364.50L426.00 364.50L427.50 364.50L427.50 364.50L429.00 364.50L429.00 364.50L430.50 364.50L430.50 364.50L432.00 364.50L432.00 364.50" fill="none" stroke="#e8641e" stroke-width="3.4" stroke-dasharray="29.4 11" stroke-dashoffset="3.30"/>
<path d="M55.50 242.00L56.88 242.00L56.88 243.50L58.25 243.50L58.25 245.00L59.62 245.00L59.62 246.50L61.00 246.50L61.00 248.00L62.25 248.00L62.25 249.25L63.50 249.25L63.50 250.50L64.75 250.50L64.75 251.75L66.00 251.75L66.00 253.00L67.25 253.00L67.25 254.25L68.50 254.25L68.50 255.50L69.75 255.50L69.75 256.75L71.00 256.75L71.00 258.00L72.25 258.00L72.25 259.50L73.50 259.50L73.50 261.00L74.75 261.00L74.75 262.50L76.00 262.50L76.00 264.00L77.25 264.00L77.25 265.25L78.50 265.25L78.50 266.50L79.75 266.50L79.75 267.75L81.00 267.75L81.00 269.00L82.25 269.00L82.25 270.00L83.50 270.00L83.50 271.00L84.75 271.00L84.75 272.00L86.00 272.00L86.00 273.00L87.25 273.00L87.25 273.75L88.50 273.75L88.50 274.50L89.75 274.50L89.75 275.25L91.00 275.25L91.00 276.00L92.25 276.00L92.25 276.62L93.50 276.62L93.50 277.25L94.75 277.25L94.75 277.88L96.00 277.88L96.00 278.50L97.40 278.50L97.40 279.00L98.80 279.00L98.80 279.50L100.20 279.50L100.20 280.00L101.60 280.00L101.60 280.50L103.00 280.50L103.00 281.00L104.40 281.00L104.40 282.00L105.80 282.00L105.80 283.00L107.20 283.00L107.20 284.00L108.60 284.00L108.60 285.00L110.00 285.00L110.00 286.00L111.25 286.00L111.25 286.62L112.50 286.62L112.50 287.25L113.75 287.25L113.75 287.88L115.00 287.88L115.00 288.50L116.25 288.50L116.25 289.00L117.50 289.00L117.50 289.50L118.75 289.50L118.75 290.00L120.00 290.00L120.00 290.50L121.25 290.50L121.25 291.00L122.50 291.00L122.50 291.50L123.75 291.50L123.75 292.00L125.00 292.00L125.00 292.50L126.25 292.50L126.25 293.00L127.50 293.00L127.50 293.50L128.75 293.50L128.75 294.00L130.00 294.00L130.00 294.50L131.25 294.50L131.25 294.88L132.50 294.88L132.50 295.25L133.75 295.25L133.75 295.62L135.00 295.62L135.00 296.00L136.25 296.00L136.25 296.38L137.50 296.38L137.50 296.75L138.75 296.75L138.75 297.12L140.00 297.12L140.00 297.50L141.40 297.50L141.40 297.70L142.80 297.70L142.80 297.90L144.20 297.90L144.20 298.10L145.60 298.10L145.60 298.30L147.00 298.30L147.00 298.50L148.25 298.50L148.25 298.88L149.50 298.88L149.50 299.25L150.75 299.25L150.75 299.62L152.00 299.62L152.00 300.00L153.33 300.00L153.33 300.50L154.67 300.50L154.67 301.00L156.00 301.00L156.00 301.50L157.57 301.50L157.57 302.00L159.14 302.00L159.14 302.50L160.71 302.50L160.71 303.00L162.29 303.00L162.29 303.50L163.86 303.50L163.86 304.00L165.43 304.00L165.43 304.50L167.00 304.50L167.00 305.00L168.43 305.00L168.43 305.43L169.86 305.43L169.86 305.86L171.29 305.86L171.29 306.29L172.71 306.29L172.71 306.71L174.14 306.71L174.14 307.14L175.57 307.14L175.57 307.57L177.00 307.57L177.00 308.00L178.50 308.00L178.50 308.50L180.00 308.50L180.00 309.00L181.50 309.00L181.50 309.50L183.00 309.50L183.00 310.00L184.40 310.00L184.40 310.20L185.80 310.20L185.80 310.40L187.20 310.40L187.20 310.60L188.60 310.60L188.60 310.80L190.00 310.80L190.00 311.00L191.43 311.00L191.43 311.14L192.86 311.14L192.86 311.29L194.29 311.29L194.29 311.43L195.71 311.43L195.71 311.57L197.14 311.57L197.14 311.71L198.57 311.71L198.57 311.86L200.00 311.86L200.00 312.00L201.40 312.00L201.40 312.32L202.80 312.32L202.80 312.64L204.20 312.64L204.20 312.96L205.60 312.96L205.60 313.28L207.00 313.28L207.00 313.60L208.43 313.60L208.43 313.80L209.86 313.80L209.86 314.00L211.29 314.00L211.29 314.20L212.71 314.20L212.71 314.40L214.14 314.40L214.14 314.60L215.57 314.60L215.57 314.80L217.00 314.80L217.00 315.00L218.43 315.00L218.43 315.29L219.86 315.29L219.86 315.57L221.29 315.57L221.29 315.86L222.71 315.86L222.71 316.14L224.14 316.14L224.14 316.43L225.57 316.43L225.57 316.71L227.00 316.71L227.00 317.00L228.43 317.00L228.43 317.29L229.86 317.29L229.86 317.57L231.29 317.57L231.29 317.86L232.71 317.86L232.71 318.14L234.14 318.14L234.14 318.43L235.57 318.43L235.57 318.71L237.00 318.71L237.00 319.00L238.43 319.00L238.43 319.20L239.86 319.20L239.86 319.40L241.29 319.40L241.29 319.60L242.71 319.60L242.71 319.80L244.14 319.80L244.14 320.00L245.57 320.00L245.57 320.20L247.00 320.20L247.00 320.40L248.56 320.40L248.56 320.74L250.11 320.74L250.11 321.09L251.67 321.09L251.67 321.43L253.22 321.43L253.22 321.78L254.78 321.78L254.78 322.12L256.33 322.12L256.33 322.47L257.89 322.47L257.89 322.81L259.44 322.81L259.44 323.16L261.00 323.16L261.00 323.50L262.54 323.50L262.54 323.77L264.08 323.77L264.08 324.04L265.62 324.04L265.62 324.31L267.15 324.31L267.15 324.58L268.69 324.58L268.69 324.85L270.23 324.85L270.23 325.12L271.77 325.12L271.77 325.38L273.31 325.38L273.31 325.65L274.85 325.65L274.85 325.92L276.38 325.92L276.38 326.19L277.92 326.19L277.92 326.46L279.46 326.46L279.46 326.73L281.00 326.73L281.00 327.00L282.54 327.00L282.54 327.23L284.08 327.23L284.08 327.46L285.62 327.46L285.62 327.69L287.15 327.69L287.15 327.92L288.69 327.92L288.69 328.15L290.23 328.15L290.23 328.38L291.77 328.38L291.77 328.62L293.31 328.62L293.31 328.85L294.85 328.85L294.85 329.08L296.38 329.08L296.38 329.31L297.92 329.31L297.92 329.54L299.46 329.54L299.46 329.77" fill="none" stroke="#1a97d6" stroke-width="3.4" stroke-dasharray="3.8 3.6" stroke-dashoffset="7.30"/>
<path d="M299.46 329.77L301.00 329.77L301.00 330.00L302.54 330.00L302.54 330.15L304.08 330.15L304.08 330.31L305.62 330.31L305.62 330.46L307.15 330.46L307.15 330.62L308.69 330.62L308.69 330.77L310.23 330.77L310.23 330.92L311.77 330.92L311.77 331.08L313.31 331.08L313.31 331.23L314.85 331.23L314.85 331.38L316.38 331.38L316.38 331.54L317.92 331.54L317.92 331.69L319.46 331.69L319.46 331.85L321.00 331.85L321.00 332.00L322.54 332.00L322.54 332.15L324.08 332.15L324.08 332.31L325.62 332.31L325.62 332.46L327.15 332.46L327.15 332.62L328.69 332.62L328.69 332.77L330.23 332.77L330.23 332.92L331.77 332.92L331.77 333.08L333.31 333.08L333.31 333.23L334.85 333.23L334.85 333.38L336.38 333.38L336.38 333.54L337.92 333.54L337.92 333.69L339.46 333.69L339.46 333.85L341.00 333.85L341.00 334.00L342.60 334.00L342.60 334.13L344.20 334.13L344.20 334.27L345.80 334.27L345.80 334.40L347.40 334.40L347.40 334.53L349.00 334.53L349.00 334.67L350.60 334.67L350.60 334.80L352.20 334.80L352.20 334.93L353.80 334.93L353.80 335.07L355.40 335.07L355.40 335.20L357.00 335.20L357.00 335.33L358.60 335.33L358.60 335.47L360.20 335.47L360.20 335.60L361.80 335.60L361.80 335.73L363.40 335.73L363.40 335.87L365.00 335.87L365.00 336.00L366.53 336.00L366.53 336.17L368.07 336.17L368.07 336.33L369.60 336.33L369.60 336.50L371.13 336.50L371.13 336.67L372.67 336.67L372.67 336.83L374.20 336.83L374.20 337.00L375.73 337.00L375.73 337.17L377.27 337.17L377.27 337.33L378.80 337.33L378.80 337.50L380.33 337.50L380.33 337.67L381.87 337.67L381.87 337.83L383.40 337.83L383.40 338.00L384.93 338.00L384.93 338.17L386.47 338.17L386.47 338.33L388.00 338.33L388.00 338.50L389.50 338.50L389.50 338.55L391.00 338.55L391.00 338.60L392.50 338.60L392.50 338.65L394.00 338.65L394.00 338.70L395.50 338.70L395.50 338.75L397.00 338.75L397.00 338.80L398.50 338.80L398.50 339.10L400.00 339.10L400.00 339.40L401.50 339.40L401.50 339.70L403.00 339.70L403.00 340.00L404.40 340.00L404.40 340.16L405.80 340.16L405.80 340.32L407.20 340.32L407.20 340.48L408.60 340.48L408.60 340.64L410.00 340.64L410.00 340.80L411.40 340.80L411.40 340.84L412.80 340.84L412.80 340.88L414.20 340.88L414.20 340.92L415.60 340.92L415.60 340.96L417.00 340.96L417.00 341.00L418.40 341.00L418.40 341.06L419.80 341.06L419.80 341.12L421.20 341.12L421.20 341.18L422.60 341.18L422.60 341.24L424.00 341.24L424.00 341.30L425.60 341.30L425.60 341.40L427.20 341.40L427.20 341.50L428.80 341.50L428.80 341.60L430.40 341.60L430.40 341.70L432.00 341.70L432.00 341.80" fill="none" stroke="#1a97d6" stroke-width="3.4" stroke-dasharray="3.8 3.6" stroke-dashoffset="7.33"/>
<path d="M55.50 241.50L56.67 241.50L56.67 242.67L57.83 242.67L57.83 243.83L59.00 243.83L59.00 245.00L60.50 245.00L60.50 246.25L62.00 246.25L62.00 247.50L63.50 247.50L63.50 248.75L65.00 248.75L65.00 250.00L66.30 250.00L66.30 250.60L67.60 250.60L67.60 251.20L68.90 251.20L68.90 251.80L70.20 251.80L70.20 252.40L71.50 252.40L71.50 253.00L72.80 253.00L72.80 254.20L74.10 254.20L74.10 255.40L75.40 255.40L75.40 256.60L76.70 256.60L76.70 257.80L78.00 257.80L78.00 259.00L79.43 259.00L79.43 259.71L80.86 259.71L80.86 260.43L82.29 260.43L82.29 261.14L83.71 261.14L83.71 261.86L85.14 261.86L85.14 262.57L86.57 262.57L86.57 263.29L88.00 263.29L88.00 264.00L89.43 264.00L89.43 264.43L90.86 264.43L90.86 264.86L92.29 264.86L92.29 265.29L93.71 265.29L93.71 265.71L95.14 265.71L95.14 266.14L96.57 266.14L96.57 266.57L98.00 266.57L98.00 267.00L99.60 267.00L99.60 267.80L101.20 267.80L101.20 268.60L102.80 268.60L102.80 269.40L104.40 269.40L104.40 270.20L106.00 270.20L106.00 271.00L107.50 271.00L107.50 271.62L109.00 271.62L109.00 272.25L110.50 272.25L110.50 272.88L112.00 272.88L112.00 273.50L113.50 273.50L113.50 274.12L115.00 274.12L115.00 274.75L116.50 274.75L116.50 275.38L118.00 275.38L118.00 276.00L119.58 276.00L119.58 276.33L121.17 276.33L121.17 276.67L122.75 276.67L122.75 277.00L124.33 277.00L124.33 277.33L125.92 277.33L125.92 277.67L127.50 277.67L127.50 278.00L129.00 278.00L129.00 278.29L130.50 278.29L130.50 278.57L132.00 278.57L132.00 278.86L133.50 278.86L133.50 279.14L135.00 279.14L135.00 279.43L136.50 279.43L136.50 279.71L138.00 279.71L138.00 280.00L139.40 280.00L139.40 280.30L140.80 280.30L140.80 280.60L142.20 280.60L142.20 280.90L143.60 280.90L143.60 281.20L145.00 281.20L145.00 281.50L146.40 281.50L146.40 281.80L147.80 281.80L147.80 282.10L149.20 282.10L149.20 282.40L150.60 282.40L150.60 282.70L152.00 282.70L152.00 283.00L153.50 283.00L153.50 283.80L155.00 283.80L155.00 284.60L156.50 284.60L156.50 285.40L158.00 285.40L158.00 286.20L159.50 286.20L159.50 287.00L161.00 287.00L161.00 287.29L162.50 287.29L162.50 287.57L164.00 287.57L164.00 287.86L165.50 287.86L165.50 288.14L167.00 288.14L167.00 288.43L168.50 288.43L168.50 288.71L170.00 288.71L170.00 289.00L171.50 289.00L171.50 289.31L173.00 289.31L173.00 289.62L174.50 289.62L174.50 289.94L176.00 289.94L176.00 290.25L177.50 290.25L177.50 290.56L179.00 290.56L179.00 290.88L180.50 290.88L180.50 291.19L182.00 291.19L182.00 291.50L183.44 291.50L183.44 291.56L184.89 291.56L184.89 291.61L186.33 291.61L186.33 291.67L187.78 291.67L187.78 291.72L189.22 291.72L189.22 291.78L190.67 291.78L190.67 291.83L192.11 291.83L192.11 291.89L193.56 291.89L193.56 291.94L195.00 291.94L195.00 292.00L196.60 292.00L196.60 292.26L198.20 292.26L198.20 292.52L199.80 292.52L199.80 292.78L201.40 292.78L201.40 293.04L203.00 293.04L203.00 293.30L204.60 293.30L204.60 293.56L206.20 293.56L206.20 293.82L207.80 293.82L207.80 294.08L209.40 294.08L209.40 294.34L211.00 294.34L211.00 294.60L212.50 294.60L212.50 294.80L214.00 294.80L214.00 295.00L215.50 295.00L215.50 295.20L217.00 295.20L217.00 295.40L218.44 295.40L218.44 295.69L219.89 295.69L219.89 295.98L221.33 295.98L221.33 296.27L222.78 296.27L222.78 296.56L224.22 296.56L224.22 296.84L225.67 296.84L225.67 297.13L227.11 297.13L227.11 297.42L228.56 297.42L228.56 297.71L230.00 297.71L230.00 298.00L231.44 298.00L231.44 298.27L232.89 298.27L232.89 298.53L234.33 298.53L234.33 298.80L235.78 298.80L235.78 299.07L237.22 299.07L237.22 299.33L238.67 299.33L238.67 299.60" fill="none" stroke="#b8c81c" stroke-width="3.4" stroke-dasharray="14.8 11.1 3.8 11.3" stroke-dashoffset="0.10"/>
<path d="M238.67 299.60L240.11 299.60L240.11 299.87L241.56 299.87L241.56 300.13L243.00 300.13L243.00 300.40L244.50 300.40L244.50 300.55L246.00 300.55L246.00 300.70L247.50 300.70L247.50 300.85L249.00 300.85L249.00 301.00L250.50 301.00L250.50 301.15L252.00 301.15L252.00 301.30L253.50 301.30L253.50 301.45L255.00 301.45L255.00 301.60L256.43 301.60L256.43 301.80L257.86 301.80L257.86 302.00L259.29 302.00L259.29 302.20L260.71 302.20L260.71 302.40L262.14 302.40L262.14 302.60L263.57 302.60L263.57 302.80L265.00 302.80L265.00 303.00L266.50 303.00L266.50 303.12L268.00 303.12L268.00 303.25L269.50 303.25L269.50 303.38L271.00 303.38L271.00 303.50L272.50 303.50L272.50 303.62L274.00 303.62L274.00 303.75L275.50 303.75L275.50 303.88L277.00 303.88L277.00 304.00L278.50 304.00L278.50 304.20L280.00 304.20L280.00 304.40L281.50 304.40L281.50 304.60L283.00 304.60L283.00 304.80L284.50 304.80L284.50 305.00L286.00 305.00L286.00 305.20L287.50 305.20L287.50 305.40L289.00 305.40L289.00 305.60L290.44 305.60L290.44 305.73L291.89 305.73L291.89 305.87L293.33 305.87L293.33 306.00L294.78 306.00L294.78 306.13L296.22 306.13L296.22 306.27L297.67 306.27L297.67 306.40L299.11 306.40L299.11 306.53L300.56 306.53L300.56 306.67L302.00 306.67L302.00 306.80L303.57 306.80L303.57 307.06L305.14 307.06L305.14 307.31L306.71 307.31L306.71 307.57L308.29 307.57L308.29 307.83L309.86 307.83L309.86 308.09L311.43 308.09L311.43 308.34L313.00 308.34L313.00 308.60L314.56 308.60L314.56 308.69L316.11 308.69L316.11 308.78L317.67 308.78L317.67 308.87L319.22 308.87L319.22 308.96L320.78 308.96L320.78 309.04L322.33 309.04L322.33 309.13L323.89 309.13L323.89 309.22L325.44 309.22L325.44 309.31L327.00 309.31L327.00 309.40L328.44 309.40L328.44 309.44L329.89 309.44L329.89 309.49L331.33 309.49L331.33 309.53L332.78 309.53L332.78 309.58L334.22 309.58L334.22 309.62L335.67 309.62L335.67 309.67L337.11 309.67L337.11 309.71L338.56 309.71L338.56 309.76L340.00 309.76L340.00 309.80L341.44 309.80L341.44 309.87L342.89 309.87L342.89 309.93L344.33 309.93L344.33 310.00L345.78 310.00L345.78 310.07L347.22 310.07L347.22 310.13L348.67 310.13L348.67 310.20L350.11 310.20L350.11 310.27L351.56 310.27L351.56 310.33L353.00 310.33L353.00 310.40L354.50 310.40L354.50 310.60L356.00 310.60L356.00 310.80L357.50 310.80L357.50 311.00L359.00 311.00L359.00 311.20L360.50 311.20L360.50 311.40L362.00 311.40L362.00 311.60L363.50 311.60L363.50 311.80L365.00 311.80L365.00 312.00L366.44 312.00L366.44 312.00L367.89 312.00L367.89 312.00L369.33 312.00L369.33 312.00L370.78 312.00L370.78 312.00L372.22 312.00L372.22 312.00L373.67 312.00L373.67 312.00L375.11 312.00L375.11 312.00L376.56 312.00L376.56 312.00L378.00 312.00L378.00 312.00L379.44 312.00L379.44 312.04L380.89 312.04L380.89 312.09L382.33 312.09L382.33 312.13L383.78 312.13L383.78 312.18L385.22 312.18L385.22 312.22L386.67 312.22L386.67 312.27L388.11 312.27L388.11 312.31L389.56 312.31L389.56 312.36L391.00 312.36L391.00 312.40L392.44 312.40L392.44 312.53L393.89 312.53L393.89 312.67L395.33 312.67L395.33 312.80L396.78 312.80L396.78 312.93L398.22 312.93L398.22 313.07L399.67 313.07L399.67 313.20L401.11 313.20L401.11 313.33L402.56 313.33L402.56 313.47L404.00 313.47L404.00 313.60L405.44 313.60L405.44 313.60L406.89 313.60L406.89 313.60L408.33 313.60L408.33 313.60L409.78 313.60L409.78 313.60L411.22 313.60L411.22 313.60L412.67 313.60L412.67 313.60L414.11 313.60L414.11 313.60L415.56 313.60L415.56 313.60L417.00 313.60L417.00 313.60L418.50 313.60L418.50 313.64L420.00 313.64L420.00 313.68L421.50 313.68L421.50 313.72L423.00 313.72L423.00 313.76L424.50 313.76L424.50 313.80L426.00 313.80L426.00 313.84L427.50 313.84L427.50 313.88L429.00 313.88L429.00 313.92L430.50 313.92L430.50 313.96L432.00 313.96L432.00 314.00" fill="none" stroke="#b8c81c" stroke-width="3.4" stroke-dasharray="14.8 11.1 3.8 11.3" stroke-dashoffset="39.76"/>
<path d="M55.50 241.00L56.88 241.00L56.88 241.50L58.25 241.50L58.25 242.00L59.62 242.00L59.62 242.50L61.00 242.50L61.00 243.00L62.50 243.00L62.50 244.25L64.00 244.25L64.00 245.50L65.33 245.50L65.33 246.17L66.67 246.17L66.67 246.83L68.00 246.83L68.00 247.50L69.25 247.50L69.25 248.12L70.50 248.12L70.50 248.75L71.75 248.75L71.75 249.38L73.00 249.38L73.00 250.00L74.25 250.00L74.25 250.62L75.50 250.62L75.50 251.25L76.75 251.25L76.75 251.88L78.00 251.88L78.00 252.50L79.25 252.50L79.25 253.25L80.50 253.25L80.50 254.00L81.75 254.00L81.75 254.75L83.00 254.75L83.00 255.50L84.25 255.50L84.25 256.38L85.50 256.38L85.50 257.25L86.75 257.25L86.75 258.12L88.00 258.12L88.00 259.00L89.25 259.00L89.25 259.88L90.50 259.88L90.50 260.75L91.75 260.75L91.75 261.62L93.00 261.62L93.00 262.50L94.25 262.50L94.25 262.75L95.50 262.75L95.50 263.00L96.75 263.00L96.75 263.25L98.00 263.25L98.00 263.50L99.60 263.50L99.60 263.80L101.20 263.80L101.20 264.10L102.80 264.10L102.80 264.40L104.40 264.40L104.40 264.70L106.00 264.70L106.00 265.00L107.43 265.00L107.43 265.21L108.86 265.21L108.86 265.43L110.29 265.43L110.29 265.64L111.71 265.64L111.71 265.86L113.14 265.86L113.14 266.07L114.57 266.07L114.57 266.29L116.00 266.29L116.00 266.50L117.57 266.50L117.57 266.93L119.14 266.93L119.14 267.36L120.71 267.36L120.71 267.79L122.29 267.79L122.29 268.21L123.86 268.21L123.86 268.64L125.43 268.64L125.43 269.07L127.00 269.07L127.00 269.50L128.50 269.50L128.50 269.75L130.00 269.75L130.00 270.00L131.50 270.00L131.50 270.50L133.00 270.50L133.00 271.00L134.50 271.00L134.50 271.50L136.00 271.50L136.00 272.00L137.50 272.00L137.50 272.50L139.00 272.50L139.00 273.00L140.57 273.00L140.57 273.43L142.14 273.43L142.14 273.86L143.71 273.86L143.71 274.29L145.29 274.29L145.29 274.71L146.86 274.71L146.86 275.14L148.43 275.14L148.43 275.57L150.00 275.57L150.00 276.00L151.40 276.00L151.40 276.30L152.80 276.30L152.80 276.60L154.20 276.60L154.20 276.90L155.60 276.90L155.60 277.20L157.00 277.20L157.00 277.50L158.50 277.50L158.50 277.69L160.00 277.69L160.00 277.88L161.50 277.88L161.50 278.06L163.00 278.06L163.00 278.25L164.50 278.25L164.50 278.44L166.00 278.44L166.00 278.62L167.50 278.62L167.50 278.81L169.00 278.81L169.00 279.00L170.50 279.00L170.50 279.25L172.00 279.25L172.00 279.50L173.50 279.50L173.50 279.75L175.00 279.75L175.00 280.00L176.50 280.00L176.50 280.25L178.00 280.25L178.00 280.50L179.50 280.50L179.50 280.75L181.00 280.75L181.00 281.00L182.50 281.00L182.50 281.25L184.00 281.25L184.00 281.50L185.50 281.50L185.50 281.75L187.00 281.75L187.00 282.00L188.50 282.00L188.50 282.25L190.00 282.25L190.00 282.50L191.50 282.50L191.50 282.75L193.00 282.75L193.00 283.00L194.56 283.00L194.56 283.22L196.11 283.22L196.11 283.44L197.67 283.44L197.67 283.67L199.22 283.67L199.22 283.89L200.78 283.89L200.78 284.11L202.33 284.11L202.33 284.33L203.89 284.33L203.89 284.56L205.44 284.56L205.44 284.78L207.00 284.78L207.00 285.00L208.43 285.00L208.43 285.23L209.86 285.23L209.86 285.46L211.29 285.46L211.29 285.69L212.71 285.69L212.71 285.91L214.14 285.91L214.14 286.14L215.57 286.14L215.57 286.37L217.00 286.37L217.00 286.60L218.43 286.60L218.43 286.74L219.86 286.74L219.86 286.89L221.29 286.89L221.29 287.03L222.71 287.03L222.71 287.17L224.14 287.17L224.14 287.31L225.57 287.31L225.57 287.46L227.00 287.46L227.00 287.60L228.43 287.60L228.43 287.66L229.86 287.66L229.86 287.71L231.29 287.71L231.29 287.77L232.71 287.77L232.71 287.83L234.14 287.83L234.14 287.89L235.57 287.89L235.57 287.94L237.00 287.94L237.00 288.00L238.43 288.00L238.43 288.14L239.86 288.14L239.86 288.29" fill="none" stroke="#f5a81c" stroke-width="3.4" stroke-dasharray="11 3.8" stroke-dashoffset="0.33"/>
<path d="M239.86 288.29L241.29 288.29L241.29 288.43L242.71 288.43L242.71 288.57L244.14 288.57L244.14 288.71L245.57 288.71L245.57 288.86L247.00 288.86L247.00 289.00L248.56 289.00L248.56 289.07L250.11 289.07L250.11 289.13L251.67 289.13L251.67 289.20L253.22 289.20L253.22 289.27L254.78 289.27L254.78 289.33L256.33 289.33L256.33 289.40L257.89 289.40L257.89 289.47L259.44 289.47L259.44 289.53L261.00 289.53L261.00 289.60L262.40 289.60L262.40 289.68L263.80 289.68L263.80 289.76L265.20 289.76L265.20 289.84L266.60 289.84L266.60 289.92L268.00 289.92L268.00 290.00L269.25 290.00L269.25 290.30L270.50 290.30L270.50 290.60L271.75 290.60L271.75 290.90L273.00 290.90L273.00 291.20L274.56 291.20L274.56 291.20L276.12 291.20L276.12 291.20L277.68 291.20L277.68 291.20L279.24 291.20L279.24 291.20L280.80 291.20L280.80 291.20L282.36 291.20L282.36 291.20L283.92 291.20L283.92 291.20L285.48 291.20L285.48 291.20L287.04 291.20L287.04 291.20L288.60 291.20L288.60 291.20L290.16 291.20L290.16 291.20L291.72 291.20L291.72 291.20L293.28 291.20L293.28 291.20L294.84 291.20L294.84 291.20L296.40 291.20L296.40 291.20L297.96 291.20L297.96 291.20L299.52 291.20L299.52 291.20L301.08 291.20L301.08 291.20L302.64 291.20L302.64 291.20L304.20 291.20L304.20 291.20L305.76 291.20L305.76 291.20L307.32 291.20L307.32 291.20L308.88 291.20L308.88 291.20L310.44 291.20L310.44 291.20L312.00 291.20L312.00 291.20L312.33 291.20L312.33 292.47L312.67 292.47L312.67 293.73L313.00 293.73L313.00 295.00L314.50 295.00L314.50 295.00L316.00 295.00L316.00 295.00L317.50 295.00L317.50 295.00L319.00 295.00L319.00 295.00L320.00 295.00L320.00 296.00L321.00 296.00L321.00 297.00L321.50 297.00L321.50 298.40L322.00 298.40L322.00 299.80L323.59 299.80L323.59 299.80L325.17 299.80L325.17 299.80L326.76 299.80L326.76 299.80L328.34 299.80L328.34 299.80L329.93 299.80L329.93 299.80L331.51 299.80L331.51 299.80L333.10 299.80L333.10 299.80L334.69 299.80L334.69 299.80L336.27 299.80L336.27 299.80L337.86 299.80L337.86 299.80L339.44 299.80L339.44 299.80L341.03 299.80L341.03 299.80L342.61 299.80L342.61 299.80L344.20 299.80L344.20 299.80L345.79 299.80L345.79 299.80L347.37 299.80L347.37 299.80L348.96 299.80L348.96 299.80L350.54 299.80L350.54 299.80L352.13 299.80L352.13 299.80L353.71 299.80L353.71 299.80L355.30 299.80L355.30 299.80L356.89 299.80L356.89 299.80L358.47 299.80L358.47 299.80L360.06 299.80L360.06 299.80L361.64 299.80L361.64 299.80L363.23 299.80L363.23 299.80L364.81 299.80L364.81 299.80L366.40 299.80L366.40 299.80L367.99 299.80L367.99 299.80L369.57 299.80L369.57 299.80L371.16 299.80L371.16 299.80L372.74 299.80L372.74 299.80L374.33 299.80L374.33 299.80L375.91 299.80L375.91 299.80L377.50 299.80L377.50 299.80L379.09 299.80L379.09 299.80L380.67 299.80L380.67 299.80L382.26 299.80L382.26 299.80L383.84 299.80L383.84 299.80L385.43 299.80L385.43 299.80L387.01 299.80L387.01 299.80L388.60 299.80L388.60 299.80L390.19 299.80L390.19 299.80L391.77 299.80L391.77 299.80L393.36 299.80L393.36 299.80L394.94 299.80L394.94 299.80L396.53 299.80L396.53 299.80L398.11 299.80L398.11 299.80L399.70 299.80L399.70 299.80L401.29 299.80L401.29 299.80L402.87 299.80L402.87 299.80L404.46 299.80L404.46 299.80L406.04 299.80L406.04 299.80L407.63 299.80L407.63 299.80L409.21 299.80L409.21 299.80L410.80 299.80L410.80 299.80L412.39 299.80L412.39 299.80L413.97 299.80L413.97 299.80L415.56 299.80L415.56 299.80L417.14 299.80L417.14 299.80L418.73 299.80L418.73 299.80L420.31 299.80L420.31 299.80L421.90 299.80L421.90 299.80L423.49 299.80L423.49 299.80L425.07 299.80L425.07 299.80L426.66 299.80L426.66 299.80L428.24 299.80L428.24 299.80L429.83 299.80L429.83 299.80L431.41 299.80L431.41 299.80L433.00 299.80L433.00 299.80" fill="none" stroke="#f5a81c" stroke-width="3.4" stroke-dasharray="11 3.8" stroke-dashoffset="9.94"/>
<line x1="84" y1="398.2" x2="124.2" y2="398.2" stroke="#0a6ebd" stroke-width="3.5"/>
<text x="128" y="402.7" font-size="11" fill="#141414">1990-1995</text>
<line x1="197" y1="398.2" x2="237" y2="398.2" stroke="#50a03a" stroke-width="3.5" stroke-dasharray="14.8 10.8"/>
<text x="239" y="402.7" font-size="11" fill="#141414">1996-2000</text>
<line x1="307.1" y1="398.2" x2="336.5" y2="398.2" stroke="#e8641e" stroke-width="3.5"/>
<text x="349" y="402.7" font-size="11" fill="#141414">2001-2005</text>
<line x1="83.4" y1="410.3" x2="124.2" y2="410.3" stroke="#1a97d6" stroke-width="3.5" stroke-dasharray="3.8 3.6"/>
<text x="128" y="416.0" font-size="11" fill="#141414">2006-2010</text>
<line x1="196.1" y1="410.3" x2="225.8" y2="410.3" stroke="#b8c81c" stroke-width="3.5" stroke-dasharray="14.8 11.1 3.8 11"/>
<text x="239.6" y="416.0" font-size="11" fill="#141414">2011-2015</text>
<line x1="306.2" y1="410.3" x2="346" y2="410.3" stroke="#f5a81c" stroke-width="3.5" stroke-dasharray="11 3.8"/>
<text x="349" y="416.0" font-size="11" fill="#141414">2016-2020</text>
<path d="M53.3 239.8 H435.1 V421.0 H53.3 Z" fill="none" stroke="#2a2a2a" stroke-width="1.5"/>
</svg>
</body></html>
